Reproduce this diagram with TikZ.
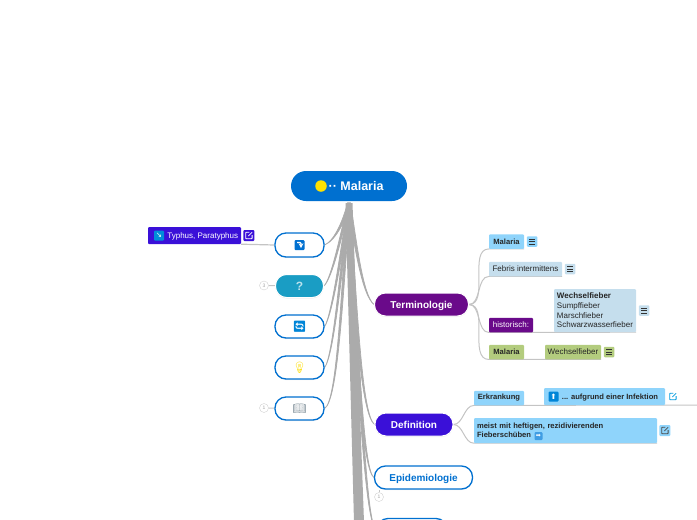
\documentclass[tikz,border=0pt]{standalone}
\usepackage{fontspec}
\setmainfont{Liberation Sans}
\newfontfamily\symfont{DejaVu Sans}
\newfontfamily\emojifont{Noto Emoji}
\usepackage{tikz}
\usetikzlibrary{positioning,calc,shadows,backgrounds}
\definecolor{rootblue}{HTML}{0070D0}
\definecolor{violetbox}{HTML}{6A0A8A}
\definecolor{indigobox}{HTML}{3A10D8}
\definecolor{skybox}{HTML}{8FD4FB}
\definecolor{palebox}{HTML}{C5DEED}
\definecolor{greenbox}{HTML}{B3CC7E}
\definecolor{tealbox}{HTML}{1A9DC4}
\definecolor{spokegray}{HTML}{ABABAB}
\definecolor{twiggray}{HTML}{C4C4C4}
% spoke: target, first control, second control, half width at the root
\newcommand{\spoke}[4]{
  \fill[spokegray,draw=spokegray,line width=.7pt] ($(root.south)+(-#4,2)$)
    .. controls ($(#2)+(-#4,0)$) and ($(#3)+(-.4*#4,0)$) .. (#1)
    .. controls ($(#3)+(.4*#4,0)$) and ($(#2)+(#4,0)$) .. ($(root.south)+(#4,2)$) -- cycle;
}
\begin{document}
\begin{tikzpicture}[x=1pt,y=-1pt,node distance=2.5pt,
    softshadow/.style={drop shadow={opacity=.14,shadow xshift=0pt,shadow yshift=-1pt}},
    mainnode/.style={rectangle,rounded corners=11pt,inner sep=0pt,minimum height=23pt,text depth=0pt,
      font=\bfseries\fontsize{10}{11}\selectfont,softshadow},
    outlinenode/.style={mainnode,fill=white,draw=rootblue,line width=1.3pt,text=rootblue},
    fillednode/.style={mainnode,draw=white,line width=1pt,text=white},
    leaf/.style={rectangle,rounded corners=1pt,inner sep=0pt,minimum height=14.5pt,
      font=\fontsize{8}{9.7}\selectfont,text=black!85},
    boldleaf/.style={leaf,font=\bfseries\fontsize{7.6}{9.4}\selectfont},
    menubox/.style={rectangle,rounded corners=1pt,minimum size=10.5pt,inner sep=0pt,
      path picture={
        \foreach \dy in {-2.4,0,2.4}
          \draw[black!80,line width=.7pt] ($(path picture bounding box.center)+(-3,\dy)$) -- ++(6,0);
      }},
    linkbox/.style={rectangle,rounded corners=1pt,minimum size=11pt,inner sep=0pt,
      path picture={
        \draw[#1,line width=.8pt,rounded corners=.5pt] ($(path picture bounding box.center)+(.5,-3.2)$)
          -- ++(-3.7,0) -- ++(0,6.4) -- ++(6.4,0) -- ++(0,-3.7);
        \draw[#1,line width=.8pt] ($(path picture bounding box.center)+(-.5,.5)$) -- ++(3.7,-3.7);
      }},
    countmark/.style={circle,draw=black!18,fill=white,minimum size=9pt,inner sep=0pt,
      text=black!35,font=\fontsize{5}{5}\selectfont},
    iconbox/.style={rectangle,rounded corners=1pt,fill=#1,text=white,inner sep=0pt,
      minimum size=10pt,font=\symfont\fontsize{7.5}{8}\selectfont},
    twig/.style={draw=twiggray,line width=1pt}]
  \clip (0,0) rectangle (697,520);
  % main branch
  \node[rectangle,rounded corners=15pt,fill=rootblue,minimum width=116pt,minimum height=30pt,
    inner sep=0pt] (root) at (349,186) {};
  \node[circle,fill=yellow!85!orange,minimum size=11.5pt,inner sep=0pt] (rootdot) at (321,186) {};
  \node[inner sep=0pt,text=white,font=\bfseries\fontsize{12.5}{14}\selectfont,anchor=west,
    right=1.5pt of rootdot] (roottext) {·· Malaria};
  % left side
  \node[outlinenode,minimum width=49pt,minimum height=24pt] (turn) at (299.5,245) {};
  \node[iconbox=rootblue,path picture={
      \draw[white,line width=1.1pt,-stealth] ($(path picture bounding box.center)+(-2.5,-2.5)$)
        -- ++(4,0) -- ++(0,5.5);
    }] (turnicon) at (turn.center) {};
  \node[fillednode,fill=tealbox,minimum width=48pt,minimum height=23pt] (ask) at (299.5,286)
    {\textcolor{white!70!tealbox}{\fontsize{12}{12}\selectfont ?}};
  \node[outlinenode,minimum width=49pt] (cycle) at (299.5,326.5) {};
  \node[inner sep=0pt,text=rootblue!85!cyan,font=\emojifont\fontsize{11}{12}\selectfont] (cycleicon) at (cycle.center) {🔄};
  \node[outlinenode,minimum width=49pt] (idea) at (299.5,367.5) {};
  \node[inner sep=0pt,text=yellow!80!orange,font=\emojifont\fontsize{11}{12}\selectfont] (ideaicon) at (idea.center) {💡};
  \node[outlinenode,minimum width=49pt] (book) at (299.5,408.5) {};
  \node[inner sep=0pt,text=black!35!palebox,font=\emojifont\fontsize{11}{12}\selectfont] (bookicon) at (book.center) {📖};
  \node[countmark] (askcount) at (264,285.5) {3};
  \node[countmark] (bookcount) at (264,408) {1};
  \node[rectangle,rounded corners=1pt,fill=indigobox,minimum width=93pt,minimum height=17pt,inner sep=0pt]
    (typhus) at (194.5,235.5) {};
  \node[iconbox=rootblue!80!cyan] (typhusicon) at (159,235.5) {↘};
  \node[inner sep=0pt,text=white,text depth=0pt,font=\fontsize{8}{9}\selectfont,right=3pt of typhusicon] (typhustext) {Typhus, Paratyphus};
  \node[linkbox=white,fill=indigobox,right=2pt of typhus] (typhuslink) {};
  % Terminologie
  \node[fillednode,fill=violetbox,minimum width=94pt] (term) at (421.5,304.5) {Terminologie};
  \node[boldleaf,fill=skybox,minimum width=35pt] (malaria) at (506.5,241.5) {Malaria};
  \node[menubox,fill=skybox,right=of malaria] (malariamenu) {};
  \node[leaf,fill=palebox,minimum width=73pt] (febris) at (525.5,269) {Febris intermittens};
  \node[menubox,fill=palebox,right=of febris] (febrismenu) {};
  \node[leaf,fill=violetbox,text=white,minimum width=44pt] (hist) at (511,325) {historisch:};
  \node[leaf,fill=palebox,minimum width=82pt,minimum height=43pt,align=left] (wechsel) at (595,310.5)
    {\textbf{Wechselfieber}\\Sumpffieber\\Marschfieber\\Schwarzwasserfieber};
  \node[menubox,fill=palebox,right=of wechsel] (wechselmenu) {};
  \node[boldleaf,fill=greenbox,minimum width=35pt] (malgreen) at (506.5,352) {Malaria};
  \node[leaf,fill=greenbox,minimum width=56pt] (wechgreen) at (573,352) {Wechselfieber};
  \node[menubox,fill=greenbox,right=of wechgreen] (wechgreenmenu) {};
  % Definition
  \node[fillednode,fill=indigobox,minimum width=78pt] (defin) at (414,424.5) {Definition};
  \node[boldleaf,fill=skybox,minimum width=50pt] (erk) at (499,398) {Erkrankung};
  \node[rectangle,rounded corners=1pt,fill=skybox,minimum width=121pt,minimum height=17pt,inner sep=0pt] (infekt) at (604.5,396.5) {};
  \node[iconbox=rootblue!85!cyan] (infekticon) at (553.5,396.5) {⬆};
  \node[inner sep=0pt,text=black!85,text depth=0pt,font=\bfseries\fontsize{7.6}{9}\selectfont,right=3pt of infekticon] (infekttext) {... aufgrund einer Infektion};
  \node[linkbox=rootblue!70!cyan,right=2pt of infekt] (infektlink) {};
  \node[boldleaf,fill=skybox,minimum width=183pt,minimum height=25pt,
    align=left,text width=177pt] (meist) at (565.5,430.5)
    {meist mit heftigen, rezidivierenden\\Fieberschüben};
  \node[iconbox=rootblue!55!skybox,minimum size=8pt,font=\symfont\fontsize{6}{6}\selectfont] (meisticon) at (538.5,436) {➡};
  \node[linkbox=black!70,fill=skybox,right=2pt of meist] (meistlink) {};
  % Epidemiologie and the next one
  \node[outlinenode,minimum width=98pt] (epi) at (423.5,477.5) {Epidemiologie};
  \node[countmark] (epicount) at (379,497) {1};
  \node[outlinenode,minimum width=70pt] (nextnode) at (412,530) {};
  \coordinate (lineend) at (697,405);
  \begin{scope}[on background layer]
    \fill[spokegray] ($(root.south)+(-3.5,2)$) -- ($(root.south)+(3.5,2)$) -- (364,522) -- (354,522) -- cycle;
    \spoke{turn.east}{345,218}{336,240}{1.5}
    \spoke{ask.east}{342,232}{332,278}{1.2}
    \spoke{cycle.east}{342,250}{332,315}{1.2}
    \spoke{idea.east}{342,260}{334,355}{1.2}
    \spoke{book.east}{342,290}{338,400}{1.2}
    \spoke{term.west}{355,240}{362,295}{1.5}
    \spoke{defin.west}{356,320}{362,415}{1.5}
    \spoke{epi.west}{358,380}{364,470}{1.5}
    \spoke{nextnode.west}{360,400}{366,525}{1.5}
    \draw[twiggray,line width=1.2pt] (turn.west) -- (typhus.south east);
    \draw[twig] (askcount) -- (ask);
    \draw[twig] (bookcount) -- (book);
    \draw[twig] (epicount.north) -- (epicount.north |- epi.south);
    \draw[twig] (term.east) to[out=0,in=180,looseness=.9] (malaria.south west) -- (malaria.south east);
    \draw[twig] (term.east) to[out=0,in=180,looseness=.9] (febris.south west) -- (febris.south east);
    \draw[twig] (term.east) to[out=0,in=180,looseness=.9] (hist.south west) -- (wechsel.south east);
    \draw[twig] (term.east) to[out=0,in=180,looseness=.9] (malgreen.south west) -- (wechgreen.south east);
    \draw[twig] (defin.east) to[out=0,in=180,looseness=.9] (erk.south west) -- (lineend);
    \draw[twig] (defin.east) to[out=0,in=180,looseness=.9] (meist.south west) -- (meist.south east);
  \end{scope}
\end{tikzpicture}
\end{document}
